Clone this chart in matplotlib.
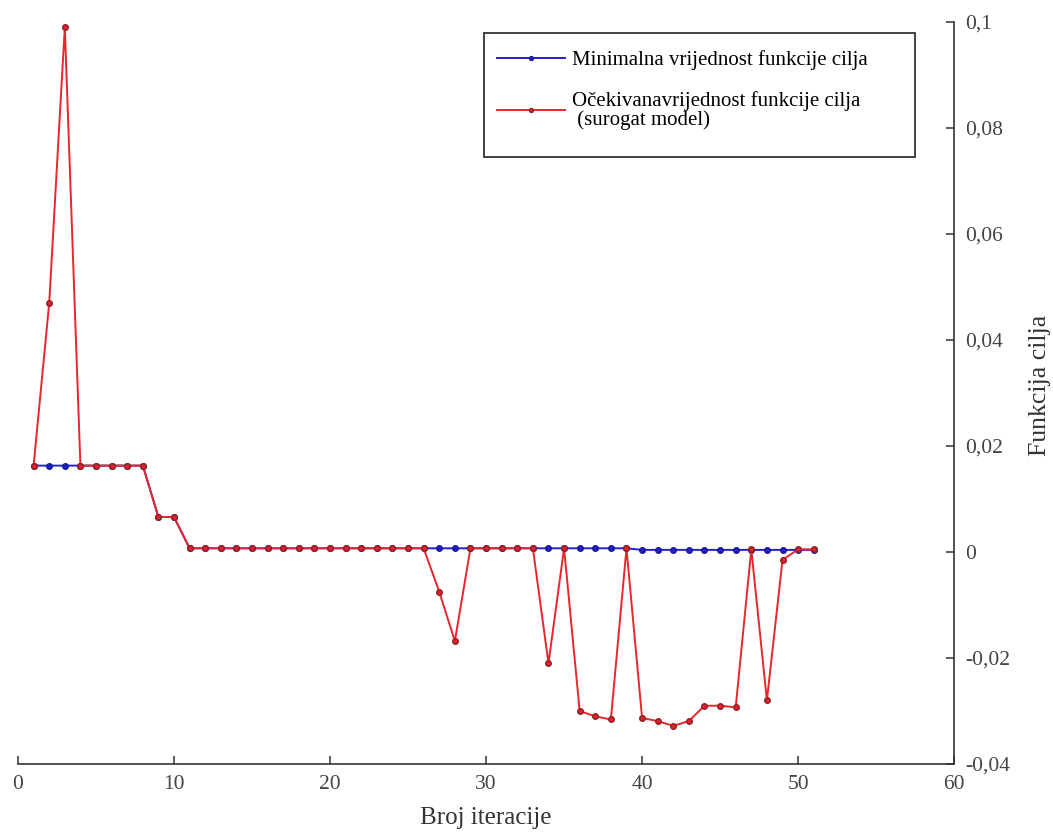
import matplotlib.pyplot as plt
from matplotlib.patches import Rectangle
from matplotlib.ticker import FuncFormatter

plt.rcParams['font.family'] = ['Liberation Serif', 'DejaVu Serif']

# iteracije
iteracije = list(range(1, 52))

# minimalna vrijednost funkcije cilja
min_vrijednost = [0.0163] * 8 + [0.0066, 0.0066] + [0.0007] * 29 + [0.0004] * 12

# ocekivana vrijednost (surogat model)
ocekivana = [0.0163, 0.047, 0.099, 0.0163, 0.0163, 0.0163, 0.0163, 0.0163,
             0.0066, 0.0066,
             0.0007, 0.0007, 0.0007, 0.0007, 0.0007, 0.0007, 0.0007, 0.0007,
             0.0007, 0.0007, 0.0007, 0.0007, 0.0007, 0.0007, 0.0007, 0.0007,
             -0.0075, -0.0168, 0.0007, 0.0007, 0.0007, 0.0007, 0.0007,
             -0.021, 0.0007, -0.030, -0.031, -0.0316, 0.0007,
             -0.0313, -0.0319, -0.0328, -0.0319, -0.029, -0.029, -0.0293,
             0.0005, -0.028, -0.0015, 0.0005, 0.0005]

fig = plt.figure(figsize=(10.53, 8.36), dpi=100)
ax = fig.add_axes([0.0171, 0.0861, 0.889, 0.8876])

ax.plot(iteracije, min_vrijednost, color='#2020d0', lw=1.4, marker='o', ms=4,
        mfc='#2020d0', mec='#1a1a90', label='Minimalna vrijednost funkcije cilja')
ax.plot(iteracije, ocekivana, color='#e8262c', lw=1.4, marker='o', ms=4,
        mfc='#e02030', mec='#902020',
        label='Očekivanavrijednost funkcije cilja\n (surogat model)')

ax.set_xlim(0, 60)
ax.set_ylim(-0.04, 0.1)
ax.set_xticks([0, 10, 20, 30, 40, 50, 60])
ax.set_yticks([-0.04, -0.02, 0, 0.02, 0.04, 0.06, 0.08, 0.1])
ax.yaxis.set_major_formatter(FuncFormatter(lambda v, p: ('%g' % round(v, 3)).replace('.', ',')))

ax.spines['top'].set_visible(False)
ax.spines['left'].set_visible(False)
for s in ('right', 'bottom'):
    ax.spines[s].set_color('#333333')
    ax.spines[s].set_linewidth(1.2)
ax.yaxis.tick_right()
ax.yaxis.set_label_position('right')
ax.tick_params(direction='in', length=6, width=1.1, colors='#333333',
               labelsize=15.5, labelcolor='#444444', pad=8)

ax.set_xlabel('Broj iteracije', fontsize=18, color='#333333', labelpad=9)
ax.set_ylabel('Funkcija cilja', fontsize=18.5, color='#333333')
ax.yaxis.set_label_coords(1.08, 0.51)

# legenda - okvir posebno
ax.add_patch(Rectangle((0.498, 0.818), 0.46, 0.167, transform=ax.transAxes,
                       fill=False, ec='#333333', lw=1.3, clip_on=False, zorder=5))
leg = ax.legend(loc='upper left', bbox_to_anchor=(0.498, 0.979), borderaxespad=0,
                fontsize=15, handlelength=3.3, handletextpad=0.3, frameon=False,
                borderpad=0.6, labelspacing=1.0, markerscale=0.7)
for t in leg.get_texts():
    t.set_linespacing(1.0)

plt.savefig('out.png')
